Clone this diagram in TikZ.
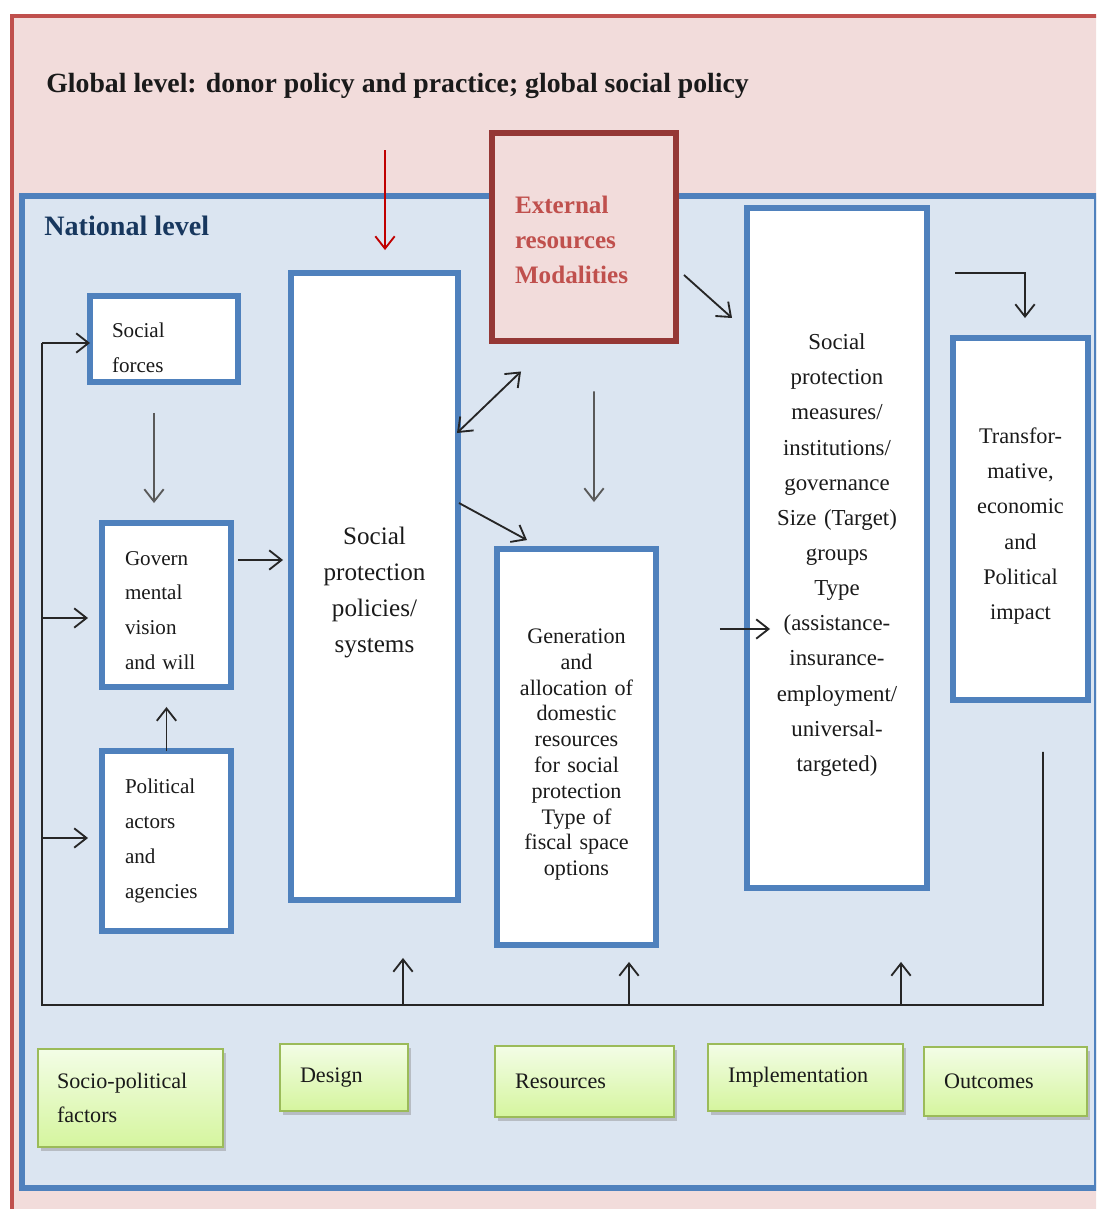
\documentclass[tikz,border=0pt]{standalone}
\usepackage{fontspec}
\setmainfont{Liberation Serif}
\usetikzlibrary{arrows.meta,calc,shadows}
\definecolor{outred}{HTML}{C0504D}
\definecolor{outfill}{HTML}{F2DCDB}
\definecolor{natblue}{HTML}{4F81BD}
\definecolor{natfill}{HTML}{DBE5F1}
\definecolor{extred}{HTML}{953735}
\definecolor{exttext}{HTML}{C0504D}
\definecolor{navytext}{HTML}{17375E}
\definecolor{gborder}{HTML}{9BBB59}
\definecolor{gtop}{HTML}{F3FDE6}
\definecolor{gbot}{HTML}{D5F59E}
\definecolor{arrred}{HTML}{C00000}
\definecolor{txt}{HTML}{1A1A1A}
\tikzset{
  bluebox/.style={draw=natblue, line width=3pt, fill=white, outer sep=0pt, inner sep=0pt, text=txt},
  leftbox/.style={bluebox, align=left, inner xsep=0.46cm, font={\fontsize{12}{19.8}\selectfont}},
  centbox/.style={bluebox, align=center, execute at begin node={\rule{0pt}{17pt}}},
  greenbox/.style={draw=gborder, line width=1.2pt, top color=gtop, bottom color=gbot, outer sep=0pt,
    inner ysep=0pt, inner xsep=0.4cm, align=left, text=txt, font={\fontsize{12.6}{19.8}\selectfont},
    drop shadow={shadow xshift=1.5pt, shadow yshift=-2pt, fill=black!45, opacity=0.45}},
  tipstyle/.style={},
  arr/.style={draw=black!85, line width=1.05pt, -{Straight Barb[length=7pt,width=11pt,line width=1.05pt]}},
  plainline/.style={draw=black!85, line width=1.05pt},
}
\begin{document}
\begin{tikzpicture}[x=0.02cm,y=-0.02cm]
\useasboundingbox (0,0) rectangle (1096,1209);
\clip (0,0) rectangle (1096,1209);
\fill[white] (0,0) rectangle (1096,1209);
% outer global frame
\draw[draw=outred, fill=outfill, line width=2.8pt] (12,16) rectangle (1130,1250);
\node[anchor=base west, font={\fontsize{15.8}{18}\selectfont\bfseries}, text=txt, inner sep=0pt] (glob) at (46,93)
  {Global level: donor policy and practice; global social policy};
% national frame
\draw[draw=natblue, fill=natfill, line width=3pt] (22,196) rectangle (1097,1188);
\node[anchor=base west, font={\fontsize{16}{18}\selectfont\bfseries}, text=navytext, inner sep=0pt] (nat) at (44,236)
  {National level};
% external resources
\node[draw=extred, line width=3.4pt, fill=outfill, outer sep=0pt, inner ysep=0pt, inner xsep=0.46cm,
  minimum width=3.68cm, minimum height=4.18cm, text width=2.76cm, align=left, text=exttext,
  font={\fontsize{14.3}{19.8}\selectfont\bfseries}] (ext) at (584,237)
  {\rule{0pt}{13pt}External\\resources\\Modalities};
% boxes
\node[leftbox, minimum width=2.96cm, minimum height=1.72cm, text width=2.08cm, inner xsep=0.44cm] (sf) at (164,339)
  {\rule{0pt}{18pt}Social\\forces};
\node[leftbox, minimum width=2.58cm, minimum height=3.28cm, text width=1.66cm] (gov) at (166.5,605)
  {\rule{0pt}{14pt}Govern\\mental\\vision\\and will};
\node[leftbox, minimum width=2.58cm, minimum height=3.6cm, text width=1.66cm] (pol) at (166.5,841)
  {Political\\actors\\and\\agencies};
\node[centbox, minimum width=3.34cm, minimum height=12.54cm, text width=2.8cm,
  font={\fontsize{14.3}{20.4}\selectfont}] (spp) at (374.5,586.5)
  {Social\\protection\\policies/\\systems};
\node[centbox, minimum width=3.18cm, minimum height=7.92cm, text width=2.8cm,
  font={\fontsize{12.6}{14.7}\selectfont}, execute at begin node={\rule{0pt}{10pt}}] (gen) at (576.5,747)
  {Generation\\and\\allocation of\\domestic\\resources\\for social\\protection\\Type of\\fiscal space\\options};
\node[centbox, minimum width=3.6cm, minimum height=13.6cm, text width=3.0cm,
  font={\fontsize{13}{20}\selectfont}] (spm) at (837,548)
  {Social\\protection\\measures/\\institutions/\\governance\\Size (Target)\\groups\\Type\\(assistance-\\insurance-\\employment/\\universal-\\targeted)};
\node[centbox, minimum width=2.7cm, minimum height=7.24cm, text width=2.3cm,
  font={\fontsize{12.7}{20.1}\selectfont}] (tr) at (1020.5,519)
  {Transfor-\\mative,\\economic\\and\\Political\\impact};
% green boxes
\node[greenbox, minimum width=3.7cm, minimum height=1.96cm, text width=2.94cm, inner xsep=0.38cm] (sp) at (130.5,1098)
  {Socio-political\\factors};
\node[greenbox, minimum width=2.56cm, minimum height=1.34cm, text width=1.76cm] (des) at (344,1077.5) {Design};
\node[greenbox, minimum width=3.58cm, minimum height=1.42cm, text width=2.78cm] (res) at (584.5,1081.5) {Resources};
\node[greenbox, minimum width=3.9cm, minimum height=1.34cm, text width=3.1cm] (imp) at (805.5,1077.5) {Implementation};
\node[greenbox, minimum width=3.26cm, minimum height=1.38cm, text width=2.46cm] (out) at (1005.5,1081.5) {Outcomes};
% red arrow from global level
\coordinate (redstart) at ($(spp.north)+(10.5,-123)$);
\draw[arr, draw=arrred, line width=0.9pt] (redstart) -- ($(spp.north)+(10.5,-23)$);
% arrows among boxes
\draw[arr, draw=black!65] ($(sf.south)+(-10,31)$) -- ($(gov.north)+(-12.5,-20)$);
\draw[arr, shorten >=0.4cm] (pol.north) -- (gov.south);
\draw[arr] ($(gov.east)+(7,-45)$) -- ($(spp.west)+(-8,-26.5)$);
\draw[plainline, {Straight Barb[length=7pt,width=11pt,line width=1.05pt]}-{Straight Barb[length=7pt,width=11pt,line width=1.05pt]}]
  ($(spp.east)+(-1,-153.5)$) -- ($(ext.south)+(-63,30)$);
\draw[arr] ($(spp.east)+(1,-83.5)$) -- ($(gen.north)+(-49.5,-9)$);
\draw[arr, draw=black!65] ($(ext.south)+(10,50)$) -- ($(gen.north)+(17.5,-47)$);
\draw[arr] ($(ext.east)+(8,38)$) -- ($(spm.west)+(-15,-230)$);
\draw[arr] ($(gen.east)+(64,-118)$) -- ($(spm.west)+(23,81)$);
\draw[arr] ($(spm.north)+(118,65)$) -| ($(tr.north)+(4.5,-20)$);
% feedback loop
\coordinate (fbR) at ($(tr.south)+(22.5,52)$);
\coordinate (fbRB) at (1043,1005);
\coordinate (fbLB) at (42,1005);
\coordinate (fbLT) at (42,343);
\coordinate (fbLG) at (42,618);
\coordinate (fbLP) at (42,838);
\draw[plainline] (fbR) -- (fbRB) -- (fbLB) -- (fbLT);
\draw[arr] (fbLT) -- (fbLT -| sf.west);
\draw[arr] (fbLG) -- ($(fbLG -| gov.west)+(-14,0)$);
\draw[arr] (fbLP) -- ($(fbLP -| pol.west)+(-14,0)$);
\coordinate (up1) at (403,1005);
\coordinate (up2) at (629,1005);
\coordinate (up3) at (901,1005);
\draw[arr] (up1) -- ($(spp.south)+(28.5,58)$);
\draw[arr] (up2) -- ($(gen.south)+(52.5,17)$);
\draw[arr] (up3) -- ($(spm.south)+(64,74)$);
\end{tikzpicture}
\end{document}
